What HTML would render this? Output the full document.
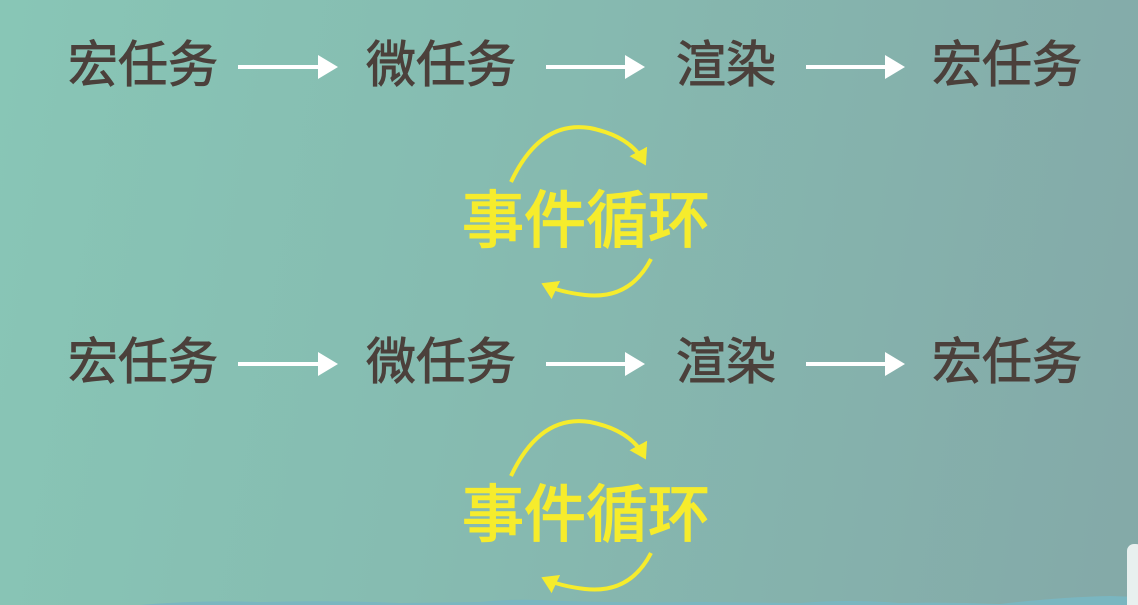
<!DOCTYPE html>
<html><head><meta charset="utf-8">
<style>
html,body{margin:0;padding:0;}
body{width:1138px;height:605px;overflow:hidden;position:relative;
background:linear-gradient(100deg,#88c6b6 0%,#86bcb1 40%,#85b1ac 75%,#84a9a8 100%);
font-family:"Liberation Sans","Noto Sans CJK SC",sans-serif;}
.t{position:absolute;font-size:50px;line-height:50px;color:#4b403b;white-space:nowrap;-webkit-text-stroke:0.9px #4b403b;}
.loop{position:absolute;font-size:62px;line-height:62px;color:#f6ec2c;font-weight:normal;-webkit-text-stroke:1.6px #f6ec2c;white-space:nowrap;}
svg{position:absolute;left:0;top:0;}
</style></head>
<body>
<svg width="1138" height="605">
  <defs>
    <marker id="wh" markerWidth="6" markerHeight="6" refX="4" refY="3" orient="auto" markerUnits="strokeWidth">
      <path d="M0,0 L5,3 L0,6 z" fill="#ffffff"/>
    </marker>
    <marker id="yh" markerWidth="5" markerHeight="5" refX="3" refY="2.5" orient="auto" markerUnits="strokeWidth">
      <path d="M0,0 L4,2.5 L0,5 z" fill="#f6ec2c"/>
    </marker>
  </defs>
  <g stroke="#ffffff" stroke-width="4" marker-end="url(#wh)">
    <line x1="238" y1="67" x2="334" y2="67"/>
    <line x1="546" y1="67" x2="641" y2="67"/>
    <line x1="806" y1="67" x2="901" y2="67"/>
  </g>
  <g stroke="#ffffff" stroke-width="4" marker-end="url(#wh)">
    <line x1="238" y1="364" x2="334" y2="364"/>
    <line x1="546" y1="364" x2="641" y2="364"/>
    <line x1="806" y1="364" x2="901" y2="364"/>
  </g>
  <g fill="none" stroke="#f6ec2c" stroke-width="4" marker-end="url(#yh)">
    <path d="M511,182 Q540,120 590,128 Q630,136 644,162"/>
    <path d="M651,259 Q630,300 585,295 Q560,292 545,285"/>
  </g>
  <g fill="none" stroke="#f6ec2c" stroke-width="4" marker-end="url(#yh)">
    <path d="M511,476 Q540,414 590,422 Q630,430 644,456"/>
    <path d="M651,553 Q630,594 585,589 Q560,586 545,579"/>
  </g>
  <path d="M140,605 Q200,600 260,602 Q330,600 400,603 L480,602 Q520,598 560,601 Q620,603 700,602 L800,603 Q850,599 900,603 Q950,602 1000,604 Q1060,597 1110,596 L1138,597 L1138,605 Z" fill="#7ab6c0"/>
  <rect x="1127" y="544" width="16" height="70" rx="7" fill="#e8f0ef"/>
</svg>

<div class="t" style="left:68px;top:40px">宏任务</div>
<div class="t" style="left:366px;top:40px">微任务</div>
<div class="t" style="left:676px;top:40px">渲染</div>
<div class="t" style="left:932px;top:40px">宏任务</div>
<div class="loop" style="left:462px;top:191px">事件循环</div>

<div class="t" style="left:68px;top:337px">宏任务</div>
<div class="t" style="left:366px;top:337px">微任务</div>
<div class="t" style="left:676px;top:337px">渲染</div>
<div class="t" style="left:932px;top:337px">宏任务</div>
<div class="loop" style="left:462px;top:485px">事件循环</div>
</body></html>
